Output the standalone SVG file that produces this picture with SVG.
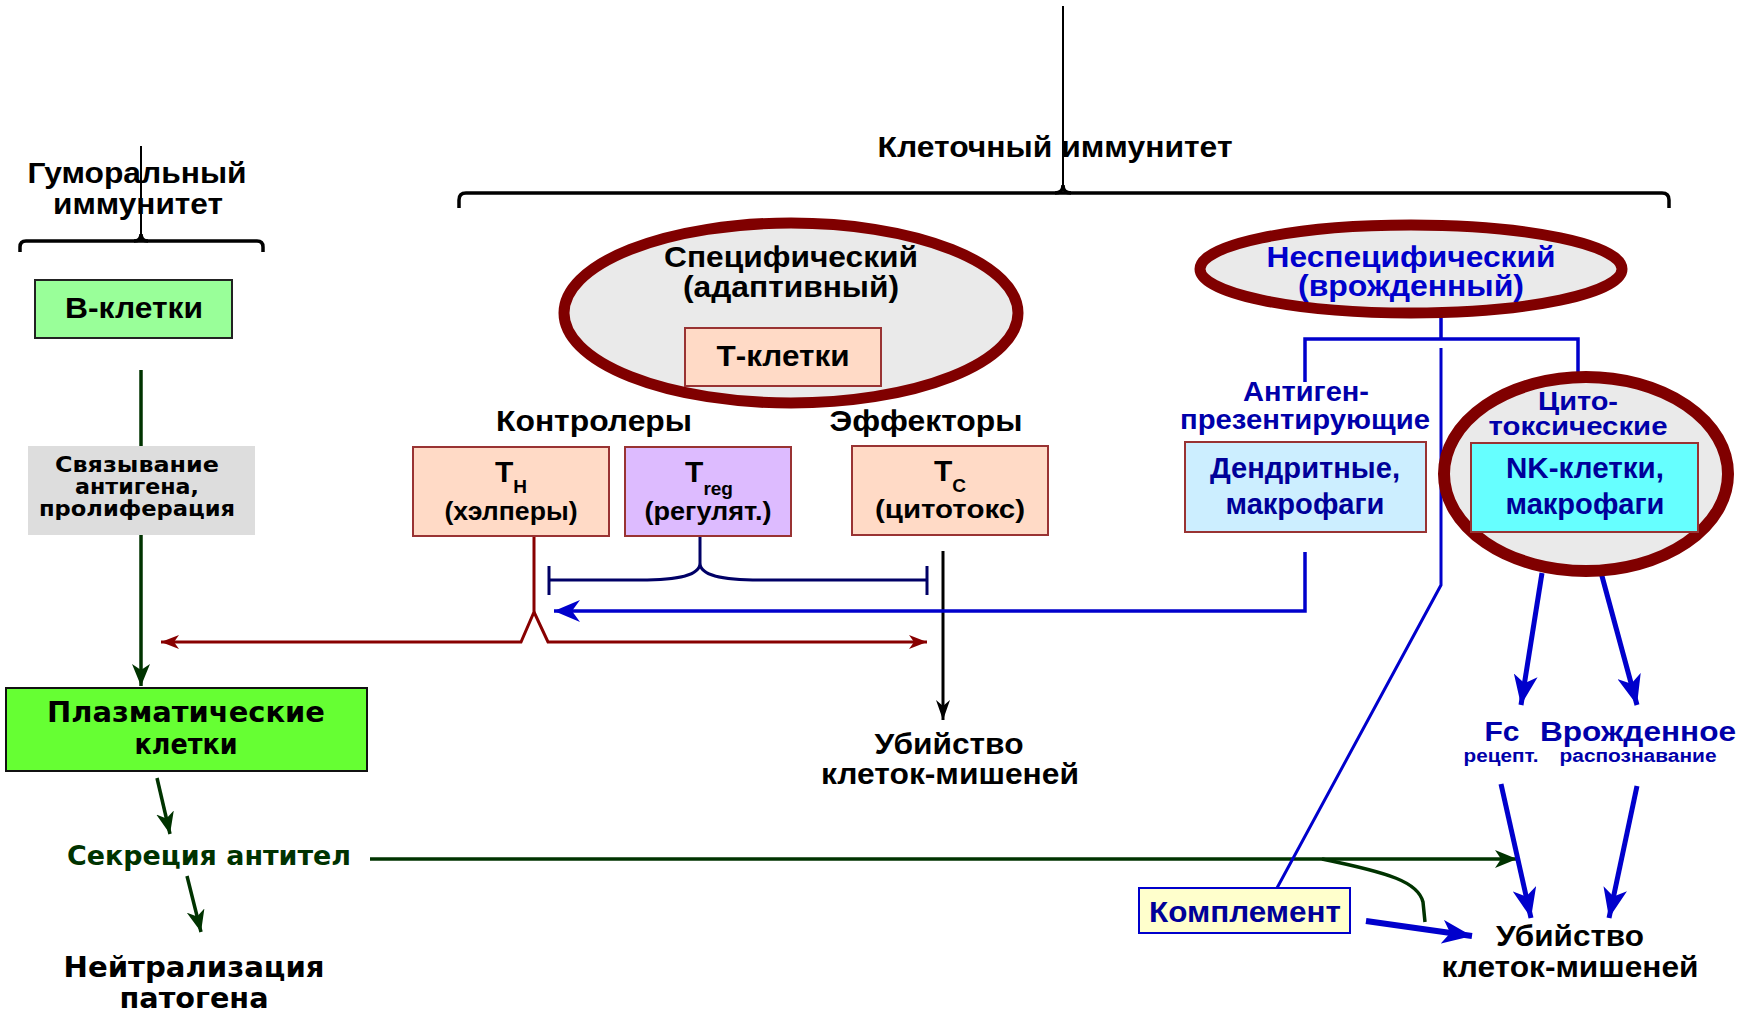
<svg xmlns="http://www.w3.org/2000/svg" width="1756" height="1015" viewBox="0 0 1756 1015">
<style>
.n{font-family:"Liberation Sans",Arial,sans-serif;font-weight:bold;text-anchor:middle}
.w{font-family:"DejaVu Sans",Verdana,sans-serif;font-weight:bold;text-anchor:middle}
.blk{fill:#000}
.blu{fill:#0000AA}
.grn{fill:#003300}
.ell{fill:#EAEAEA;stroke:#800000;stroke-width:11}
.box{stroke:#993333;stroke-width:2}
.br{fill:none;stroke:#000;stroke-width:3.5}
</style>
<defs>
<marker id="aRed" markerUnits="userSpaceOnUse" viewBox="0 0 18 14" refX="18" refY="7" markerWidth="18" markerHeight="14" orient="auto"><path d="M0,0 L18,7 L0,14 L5,7 z" fill="#880000"/></marker>
<marker id="aBlue" markerUnits="userSpaceOnUse" viewBox="0 0 26 22" refX="26" refY="11" markerWidth="26" markerHeight="22" orient="auto"><path d="M0,0 L26,11 L0,22 L8,11 z" fill="#0000CC"/></marker>
<marker id="aBlueS" markerUnits="userSpaceOnUse" viewBox="0 0 30 24" refX="30" refY="12" markerWidth="30" markerHeight="24" orient="auto"><path d="M0,0 L30,12 L0,24 L8,12 z" fill="#0000CC"/></marker>
<marker id="aBlack" markerUnits="userSpaceOnUse" viewBox="0 0 20 14" refX="20" refY="7" markerWidth="20" markerHeight="14" orient="auto"><path d="M0,0 L20,7 L0,14 L6,7 z" fill="#000"/></marker>
<marker id="aGreen" markerUnits="userSpaceOnUse" viewBox="0 0 22 18" refX="22" refY="9" markerWidth="22" markerHeight="18" orient="auto"><path d="M0,0 L22,9 L0,18 L6,9 z" fill="#003300"/></marker>
</defs>
<rect width="1756" height="1015" fill="#fff"/>

<g id="connectors">
  <line x1="1063" y1="6" x2="1063" y2="190" stroke="#000" stroke-width="2"/>
  <path class="br" d="M459,208 L459,200 Q459,193 466,193 L1662,193 Q1669,193 1669,200 L1669,208"/>
  <path class="br" d="M1055,193 Q1063,193 1063,185 Q1063,193 1071,193"/>
  <line x1="141" y1="146" x2="141" y2="238" stroke="#000" stroke-width="2"/>
  <path class="br" d="M20,252 L20,247 Q20,241 26,241 L257,241 Q263,241 263,247 L263,252"/>
  <path class="br" d="M134,241 Q141,241 141,234 Q141,241 148,241"/>
  <line x1="141" y1="370" x2="141" y2="446" stroke="#003300" stroke-width="3.5"/>
  <line x1="141" y1="535" x2="141" y2="686" stroke="#003300" stroke-width="3.5" marker-end="url(#aGreen)"/>
  <line x1="157" y1="778" x2="170" y2="834" stroke="#003300" stroke-width="3.5" marker-end="url(#aGreen)"/>
  <line x1="187" y1="876" x2="201" y2="932" stroke="#003300" stroke-width="3.5" marker-end="url(#aGreen)"/>
  <line x1="370" y1="859" x2="1517" y2="859" stroke="#003300" stroke-width="3.5" marker-end="url(#aGreen)"/>
  <path d="M1322,859 C1390,873 1418,882 1423,902 L1425,922" fill="none" stroke="#003300" stroke-width="3.5"/>
  <path d="M534,536 L534,612 L521,642 L161,642" fill="none" stroke="#880000" stroke-width="3" marker-end="url(#aRed)"/>
  <path d="M534,612 L548,642 L927,642" fill="none" stroke="#880000" stroke-width="3" marker-end="url(#aRed)"/>
  <path d="M700,536 L700,563 C700,575 680,580 640,580 L549,580 M700,563 C700,575 720,580 760,580 L927,580" fill="none" stroke="#000066" stroke-width="3"/>
  <line x1="549" y1="566" x2="549" y2="595" stroke="#000066" stroke-width="3"/>
  <line x1="927" y1="566" x2="927" y2="595" stroke="#000066" stroke-width="3"/>
  <line x1="943" y1="551" x2="943" y2="720" stroke="#000" stroke-width="3" marker-end="url(#aBlack)"/>
  <path d="M1305,552 L1305,611 L554,611" fill="none" stroke="#0000CC" stroke-width="3.5" marker-end="url(#aBlue)"/>
  <path d="M1441,316 L1441,339 M1305,382 L1305,339 L1578,339 L1578,372" fill="none" stroke="#0000CC" stroke-width="3.5"/>
  <path d="M1441,348 L1441,585 L1277,888" fill="none" stroke="#0000CC" stroke-width="3"/>
  <line x1="1542" y1="573" x2="1521" y2="705" stroke="#0000CC" stroke-width="5" marker-end="url(#aBlueS)"/>
  <line x1="1593" y1="543" x2="1637" y2="705" stroke="#0000CC" stroke-width="5" marker-end="url(#aBlueS)"/>
  <line x1="1501" y1="784" x2="1531" y2="918" stroke="#0000CC" stroke-width="5" marker-end="url(#aBlueS)"/>
  <line x1="1637" y1="786" x2="1609" y2="918" stroke="#0000CC" stroke-width="5" marker-end="url(#aBlueS)"/>
  <line x1="1366" y1="921" x2="1472" y2="936" stroke="#0000CC" stroke-width="6" marker-end="url(#aBlueS)"/>
</g>

<g id="title-humoral">
  <text class="n blk" x="137" y="183" font-size="30" textLength="219" lengthAdjust="spacingAndGlyphs">Гуморальный</text>
  <text class="n blk" x="138" y="214" font-size="30" textLength="170" lengthAdjust="spacingAndGlyphs">иммунитет</text>
</g>
<g id="title-cellular">
  <text class="n blk" x="1055" y="157" font-size="30" textLength="355" lengthAdjust="spacingAndGlyphs">Клеточный иммунитет</text>
</g>

<g id="b-cells">
  <rect x="35" y="280" width="197" height="58" fill="#99FF99" stroke="#222" stroke-width="2"/>
  <text class="n blk" x="134" y="318" font-size="30" textLength="138" lengthAdjust="spacingAndGlyphs">В-клетки</text>
</g>
<g id="binding">
  <rect x="28" y="446" width="227" height="89" fill="#DDDDDD"/>
  <text class="w blk" x="137" y="472" font-size="22" textLength="164" lengthAdjust="spacingAndGlyphs">Связывание</text>
  <text class="w blk" x="137" y="494" font-size="22" textLength="124" lengthAdjust="spacingAndGlyphs">антигена,</text>
  <text class="w blk" x="137" y="516" font-size="22" textLength="196" lengthAdjust="spacingAndGlyphs">пролиферация</text>
</g>
<g id="plasma">
  <rect x="6" y="688" width="361" height="83" fill="#66FF33" stroke="#111" stroke-width="2"/>
  <text class="w blk" x="186" y="722" font-size="28" textLength="278" lengthAdjust="spacingAndGlyphs">Плазматические</text>
  <text class="w blk" x="186" y="754" font-size="28" textLength="103" lengthAdjust="spacingAndGlyphs">клетки</text>
</g>
<g id="secretion">
  <text class="w grn" x="209" y="865" font-size="26" textLength="284" lengthAdjust="spacingAndGlyphs">Секреция антител</text>
</g>
<g id="neutralization">
  <text class="w blk" x="194" y="977" font-size="29" textLength="261" lengthAdjust="spacingAndGlyphs">Нейтрализация</text>
  <text class="w blk" x="194" y="1008" font-size="29" textLength="149" lengthAdjust="spacingAndGlyphs">патогена</text>
</g>

<g id="specific">
  <ellipse class="ell" cx="791" cy="313" rx="227" ry="90"/>
  <text class="n blk" x="791" y="267" font-size="30" textLength="254" lengthAdjust="spacingAndGlyphs">Специфический</text>
  <text class="n blk" x="791" y="297" font-size="30" textLength="216" lengthAdjust="spacingAndGlyphs">(адаптивный)</text>
</g>
<g id="t-cells">
  <rect class="box" x="685" y="328" width="196" height="58" fill="#FFDAC6"/>
  <text class="n blk" x="783" y="366" font-size="30" textLength="133" lengthAdjust="spacingAndGlyphs">Т-клетки</text>
</g>
<g id="label-controllers">
  <text class="n blk" x="594" y="431" font-size="30" textLength="196" lengthAdjust="spacingAndGlyphs">Контролеры</text>
</g>
<g id="label-effectors">
  <text class="n blk" x="926" y="431" font-size="30" textLength="193" lengthAdjust="spacingAndGlyphs">Эффекторы</text>
</g>
<g id="th">
  <rect class="box" x="413" y="447" width="196" height="89" fill="#FFDAC6"/>
  <text class="n blk" x="511" y="482" font-size="30">Т<tspan font-size="19" dy="11">H</tspan></text>
  <text class="n blk" x="511" y="520" font-size="26" textLength="133" lengthAdjust="spacingAndGlyphs">(хэлперы)</text>
</g>
<g id="treg">
  <rect class="box" x="625" y="447" width="166" height="89" fill="#DDBBFF"/>
  <text class="n blk" x="709" y="482" font-size="30">Т<tspan font-size="19" dy="13">reg</tspan></text>
  <text class="n blk" x="708" y="520" font-size="26" textLength="127" lengthAdjust="spacingAndGlyphs">(регулят.)</text>
</g>
<g id="tc">
  <rect class="box" x="852" y="446" width="196" height="89" fill="#FFDAC6"/>
  <text class="n blk" x="950" y="481" font-size="30">Т<tspan font-size="19" dy="11">C</tspan></text>
  <text class="n blk" x="950" y="518" font-size="26" textLength="150" lengthAdjust="spacingAndGlyphs">(цитотокс)</text>
</g>
<g id="kill-mid">
  <text class="n blk" x="949" y="754" font-size="29" textLength="149" lengthAdjust="spacingAndGlyphs">Убийство</text>
  <text class="n blk" x="950" y="784" font-size="29" textLength="258" lengthAdjust="spacingAndGlyphs">клеток-мишеней</text>
</g>

<g id="nonspecific">
  <ellipse class="ell" cx="1411" cy="269" rx="211" ry="44"/>
  <text class="n" fill="#0000CC" x="1411" y="267" font-size="30" textLength="289" lengthAdjust="spacingAndGlyphs">Неспецифический</text>
  <text class="n" fill="#0000CC" x="1411" y="296" font-size="30" textLength="226" lengthAdjust="spacingAndGlyphs">(врожденный)</text>
</g>
<g id="label-apc">
  <text class="n blu" x="1306" y="401" font-size="27" textLength="126" lengthAdjust="spacingAndGlyphs">Антиген-</text>
  <text class="n blu" x="1305" y="429" font-size="27" textLength="250" lengthAdjust="spacingAndGlyphs">презентирующие</text>
</g>
<g id="dendritic">
  <rect class="box" x="1185" y="442" width="241" height="90" fill="#CCEEFF"/>
  <text class="n" fill="#000099" x="1305" y="478" font-size="29" textLength="190" lengthAdjust="spacingAndGlyphs">Дендритные,</text>
  <text class="n" fill="#000099" x="1305" y="514" font-size="29" textLength="159" lengthAdjust="spacingAndGlyphs">макрофаги</text>
</g>
<g id="cytotoxic">
  <ellipse class="ell" cx="1586" cy="474" rx="142" ry="97" style="stroke-width:12"/>
  <text class="n blu" font-size="26"><tspan x="1578" y="410" textLength="80" lengthAdjust="spacingAndGlyphs">Цито-</tspan><tspan x="1578" y="435" textLength="179" lengthAdjust="spacingAndGlyphs">токсические</tspan></text>
</g>
<g id="nk">
  <rect class="box" x="1471" y="443" width="227" height="89" fill="#66FFFF"/>
  <text class="n" fill="#000099" x="1585" y="478" font-size="29" textLength="158" lengthAdjust="spacingAndGlyphs">NK-клетки,</text>
  <text class="n" fill="#000099" x="1585" y="514" font-size="29" textLength="159" lengthAdjust="spacingAndGlyphs">макрофаги</text>
</g>
<g id="fc">
  <text class="n blu" x="1502" y="741" font-size="28" textLength="35" lengthAdjust="spacingAndGlyphs">Fc</text>
  <text class="n blu" x="1501" y="762" font-size="18" textLength="75" lengthAdjust="spacingAndGlyphs">рецепт.</text>
</g>
<g id="innate">
  <text class="n blu" x="1638" y="741" font-size="28" textLength="196" lengthAdjust="spacingAndGlyphs">Врожденное</text>
  <text class="n blu" x="1638" y="762" font-size="18" textLength="157" lengthAdjust="spacingAndGlyphs">распознавание</text>
</g>
<g id="complement">
  <rect x="1139" y="888" width="211" height="45" fill="#FFFFCC" stroke="#0000CC" stroke-width="2"/>
  <text class="n" fill="#000099" x="1245" y="922" font-size="29" textLength="192" lengthAdjust="spacingAndGlyphs">Комплемент</text>
</g>
<g id="kill-right">
  <text class="n blk" x="1570" y="946" font-size="29" textLength="148" lengthAdjust="spacingAndGlyphs">Убийство</text>
  <text class="n blk" x="1570" y="977" font-size="29" textLength="257" lengthAdjust="spacingAndGlyphs">клеток-мишеней</text>
</g>
</svg>
